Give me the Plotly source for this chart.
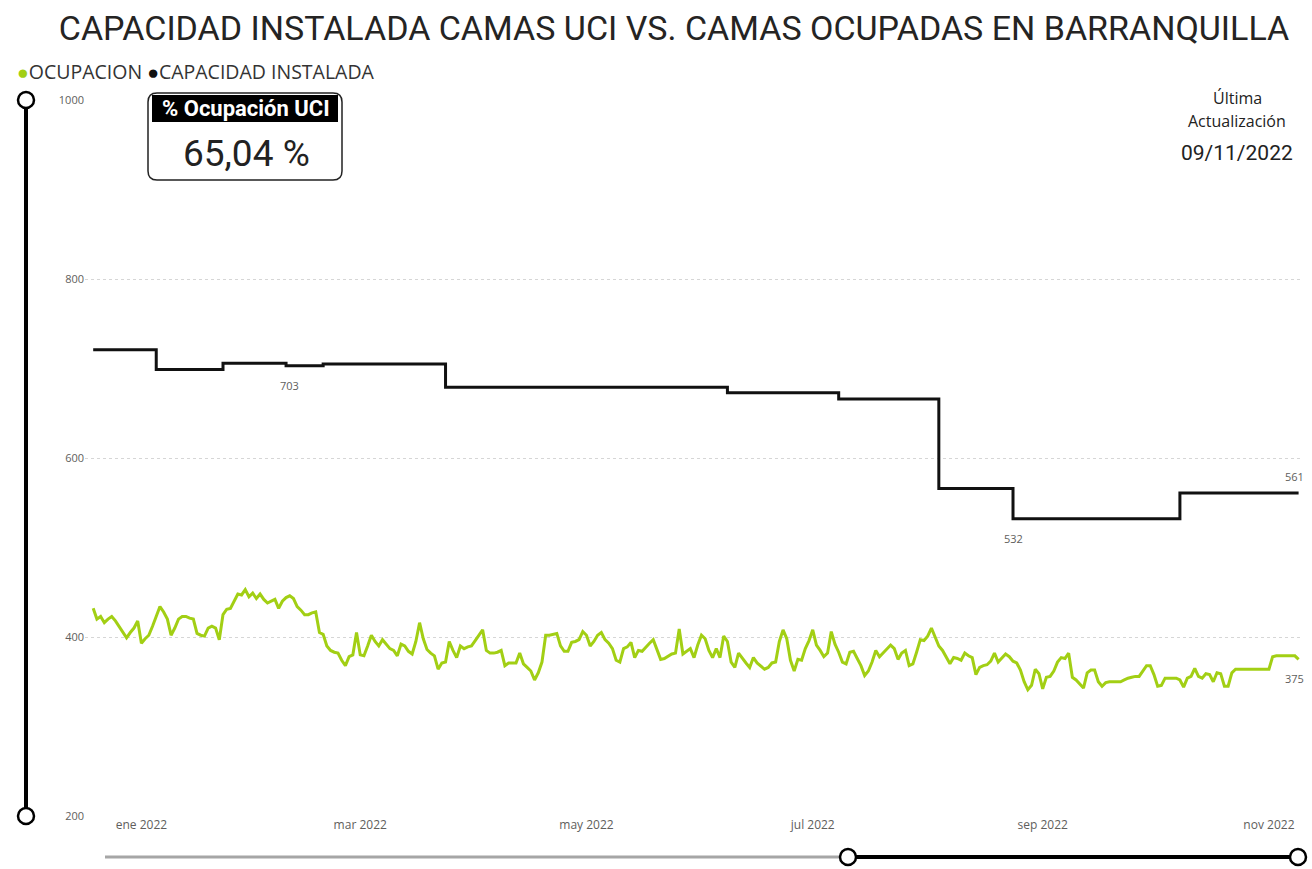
import pandas as pd
import plotly.graph_objects as go

# ---------------- data ----------------
start_date = "2021-12-19"
ocupacion = [
    432, 420, 423, 416, 420, 423, 418, 412, 406, 399,
    405, 410, 418, 393, 398, 402, 412, 422, 434, 428,
    420, 402, 410, 420, 423, 423, 421, 420, 404, 402,
    401, 410, 412, 410, 397, 425, 431, 432, 440, 448,
    447, 453, 445, 449, 443, 448, 442, 438, 440, 442,
    432, 440, 444, 446, 443, 434, 430, 425, 425, 427,
    428, 405, 403, 390,
    385, 383, 382, 374, 368, 378, 380, 405, 380, 379,
    390, 402, 395, 390, 397, 392, 387, 385, 379, 392,
    390, 384, 381, 395, 416, 398, 386, 382, 379, 364,
    371, 372, 395, 385, 377, 390, 387, 389, 390, 396,
    402, 408, 385, 382, 382, 383, 385, 368, 371, 371,
    371, 382, 370, 366, 362, 352, 360, 372, 402, 402,
    403, 404, 390, 384, 384,
    394, 395, 397, 406, 402, 390, 395, 402, 405, 397,
    393, 387, 374, 372, 387, 389, 394, 377, 385, 384,
    389, 393, 397, 386, 375, 376, 379, 381, 382, 409,
    381, 384, 387, 377, 391, 402, 398, 385, 377, 387,
    377, 401, 395, 372, 366, 382, 376, 371, 366, 377,
    371, 368, 364, 366, 371, 372, 395, 408, 398, 374,
    362, 375, 374, 387, 396,
    408, 391, 385, 378, 382, 406, 392, 383, 372, 370,
    383, 384, 376, 368, 357, 362, 372, 385, 378, 382,
    386, 391, 387, 375, 382, 385, 368, 370, 383, 397,
    396, 401, 410, 400, 390, 385, 378, 370, 377, 376,
    374, 382, 379, 377, 358, 366, 368, 369, 373, 382,
    372, 376, 381, 378, 373, 371, 363, 350, 341, 346,
    364, 359, 342, 355,
    356, 362, 372, 377, 376, 382, 355, 352, 348, 343,
    360, 363, 363, 350, 345, 349, 350, 350, 350, 350,
    352, 354, 355, 356, 356, 362, 368, 368, 358, 345,
    346, 354, 354, 354, 354, 352, 344, 354, 356, 365,
    356, 354, 359, 358, 350, 360, 359, 345, 345, 360,
    364, 364, 364, 364, 364, 364, 364, 364, 364, 364,
    378, 379, 379, 379, 379, 379, 379, 375,
]
ocup_dates = pd.date_range(start_date, periods=len(ocupacion), freq="D")

cap_dates = ["2021-12-19", "2022-01-05", "2022-01-23", "2022-02-09", "2022-02-19",
             "2022-03-24", "2022-06-08", "2022-07-08", "2022-08-04", "2022-08-24",
             "2022-10-08", "2022-11-09"]
capacidad = [721, 699, 706, 703, 705, 679, 673, 666, 566, 532, 561, 561]

tick_dates = ["2022-01-01", "2022-03-01", "2022-05-01", "2022-07-01", "2022-09-01", "2022-11-01"]
tick_labels = ["ene 2022", "mar 2022", "may 2022", "jul 2022", "sep 2022", "nov 2022"]
y_ticks = [200, 400, 600, 800, 1000]

labels_cap = [("2022-02-10", 703, "703", -20), ("2022-08-24", 532, "532", -20),
              ("2022-11-08", 561, "561", 16)]
label_ocup = ("2022-11-08", 375, "375", -19)

kpi_title = "% Ocupación UCI"
kpi_value = "65,04 %"
update_date = "09/11/2022"

GREEN = "#A2CF14"
BLACK = "#111111"
GRAY_TXT = "#605E5C"

W, H = 1312, 869
L, R, T, B = 85, 10, 100, 53
PW, PH = W - L - R, H - T - B


def PX(px):
    return (px - L) / PW


def PY(py):
    return (H - B - py) / PH


fig = go.Figure()
fig.add_trace(go.Scatter(x=ocup_dates, y=ocupacion, mode="lines", name="OCUPACION",
                         line=dict(color=GREEN, width=3), showlegend=False))
fig.add_trace(go.Scatter(x=pd.to_datetime(cap_dates), y=capacidad, mode="lines",
                         name="CAPACIDAD INSTALADA", line=dict(color=BLACK, width=3, shape="hv"),
                         showlegend=False))

ann = []
for d, v, t, ys in labels_cap + [label_ocup]:
    ann.append(dict(x=d, y=v, xref="x", yref="y", text=t, showarrow=False, yshift=ys,
                    font=dict(family="Open Sans", size=11, color=GRAY_TXT)))

# legend
ann.append(dict(x=PX(15), y=PY(71), xref="paper", yref="paper", xanchor="left", yanchor="middle",
                showarrow=False,
                text=f"<span style='color:{GREEN}'>●</span>OCUPACION <span style='color:{BLACK}'>●</span>CAPACIDAD INSTALADA",
                font=dict(family="Open Sans", size=19.5, color="#333333")))
# KPI
ann.append(dict(x=PX(246), y=PY(108.5), xref="paper", yref="paper", xanchor="center", yanchor="middle",
                showarrow=False, text=f"<b>{kpi_title}</b>",
                font=dict(family="Roboto", size=22, color="white")))
ann.append(dict(x=PX(246), y=PY(153), xref="paper", yref="paper", xanchor="center", yanchor="middle",
                showarrow=False, text=kpi_value,
                font=dict(family="Roboto", size=37, color="#222222")))
# last update
ann.append(dict(x=PX(1237), y=PY(98), xref="paper", yref="paper", xanchor="center", yanchor="middle",
                showarrow=False, text="Última", font=dict(family="Open Sans", size=16, color="#222222")))
ann.append(dict(x=PX(1237), y=PY(121), xref="paper", yref="paper", xanchor="center", yanchor="middle",
                showarrow=False, text="Actualización", font=dict(family="Open Sans", size=16, color="#222222")))
ann.append(dict(x=PX(1237), y=PY(153), xref="paper", yref="paper", xanchor="center", yanchor="middle",
                showarrow=False, text=update_date, font=dict(family="Roboto", size=21, color="#222222")))

shapes = []
# KPI box (rounded)
x0, x1, y0, y1, r = PX(148), PX(342), PY(93), PY(180), 9
rx, ry = r / PW, r / PH
path = (f"M {x0+rx},{y0} L {x1-rx},{y0} Q {x1},{y0} {x1},{y0-ry} L {x1},{y1+ry} "
        f"Q {x1},{y1} {x1-rx},{y1} L {x0+rx},{y1} Q {x0},{y1} {x0},{y1+ry} L {x0},{y0-ry} Q {x0},{y0} {x0+rx},{y0} Z")
shapes.append(dict(type="path", path=path, xref="paper", yref="paper",
                   line=dict(color="#222222", width=1.5), fillcolor="white", layer="below"))
shapes.append(dict(type="rect", xref="paper", yref="paper", x0=PX(152), x1=PX(338), y0=PY(95), y1=PY(122),
                   line=dict(width=0), fillcolor="#000000"))
# vertical slider
shapes.append(dict(type="line", xref="paper", yref="paper", x0=PX(26), x1=PX(26), y0=PY(100), y1=PY(816),
                   line=dict(color="#000000", width=4)))
for cy in (100, 816):
    shapes.append(dict(type="circle", xref="paper", yref="paper", x0=PX(26 - 8), x1=PX(26 + 8),
                       y0=PY(cy - 8), y1=PY(cy + 8), line=dict(color="#000000", width=2.5), fillcolor="white"))
# horizontal slider
shapes.append(dict(type="line", xref="paper", yref="paper", x0=PX(105), x1=PX(848), y0=PY(857), y1=PY(857),
                   line=dict(color="#A6A6A6", width=3)))
shapes.append(dict(type="line", xref="paper", yref="paper", x0=PX(848), x1=PX(1298), y0=PY(857), y1=PY(857),
                   line=dict(color="#000000", width=4)))
for cx in (848, 1298):
    shapes.append(dict(type="circle", xref="paper", yref="paper", x0=PX(cx - 8), x1=PX(cx + 8),
                       y0=PY(857 - 8), y1=PY(857 + 8), line=dict(color="#000000", width=2.5), fillcolor="white"))

fig.update_layout(
    width=W, height=H,
    margin=dict(l=L, r=R, t=T, b=B),
    paper_bgcolor="white", plot_bgcolor="white",
    title=dict(text="CAPACIDAD INSTALADA CAMAS UCI VS. CAMAS OCUPADAS EN BARRANQUILLA",
               x=674 / W, xanchor="center", xref="container",
               y=1 - 28 / H, yanchor="middle", yref="container",
               font=dict(family="Roboto", size=34, color="#252423")),
    xaxis=dict(range=["2021-12-16 19:00", "2022-11-09 22:00"], tickvals=tick_dates, ticktext=tick_labels,
               showgrid=False, zeroline=False, showline=False, ticks="",
               tickfont=dict(family="Open Sans", size=12, color=GRAY_TXT)),
    yaxis=dict(range=[200, 1000], tickvals=y_ticks, showgrid=True, gridcolor="#D6D6D6",
               griddash="dot", gridwidth=1, zeroline=False, showline=False, ticks="",
               tickfont=dict(family="Open Sans", size=11, color=GRAY_TXT)),
    annotations=ann, shapes=shapes, showlegend=False,
)

fig.write_html("out.html", config={"displayModeBar": False},
               post_script="document.body.style.margin='0';")
